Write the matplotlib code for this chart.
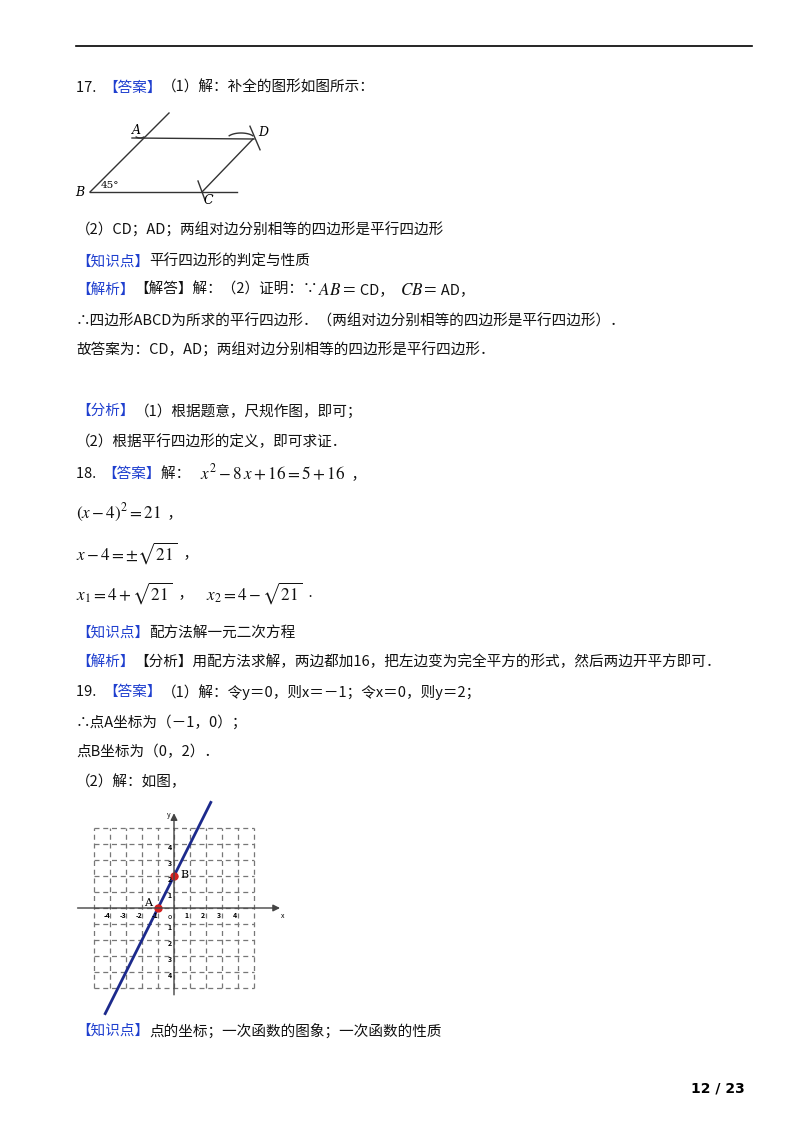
import matplotlib
matplotlib.use('Agg')
import matplotlib.pyplot as plt
import numpy as np

plt.rcParams['font.family'] = ['Noto Sans CJK SC', 'DejaVu Sans']
plt.rcParams['mathtext.fontset'] = 'stix'

BLUE = '#1f3fcf'
BLACK = '#111111'

# 页面文字行：(y, [(文字, 颜色), ...])
lines = [
    (88, [('17.  ', BLACK), ('【答案】', BLUE), ('（1）解：补全的图形如图所示：', BLACK)]),
    (230, [('（2）CD；AD；两组对边分别相等的四边形是平行四边形', BLACK)]),
    (262, [('【知识点】', BLUE), ('平行四边形的判定与性质', BLACK)]),
    (290, [('【解析】', BLUE), ('【解答】解：（2）证明：∵', BLACK), (r'$AB$', BLACK), ('＝ CD，  ', BLACK),
           (r'$CB$', BLACK), ('＝ AD，', BLACK)]),
    (321, [('∴四边形ABCD为所求的平行四边形．（两组对边分别相等的四边形是平行四边形）．', BLACK)]),
    (350, [('故答案为：CD，AD；两组对边分别相等的四边形是平行四边形．', BLACK)]),
    (411, [('【分析】', BLUE), ('（1）根据题意，尺规作图，即可；', BLACK)]),
    (442, [('（2）根据平行四边形的定义，即可求证．', BLACK)]),
    (474, [('18.  ', BLACK), ('【答案】', BLUE), ('解：   ', BLACK), (r'$x^2-8\,x+16=5+16$', BLACK), ('  ，', BLACK)]),
    (513, [(r'$\left(x-4\right)^2=21$', BLACK), ('  ，', BLACK)]),
    (553, [(r'$x-4=\pm\sqrt{21}$', BLACK), ('  ，', BLACK)]),
    (593, [(r'$x_1=4+\sqrt{21}$', BLACK), ('  ，    ', BLACK), (r'$x_2=4-\sqrt{21}$', BLACK), ('  .', BLACK)]),
    (633, [('【知识点】', BLUE), ('配方法解一元二次方程', BLACK)]),
    (662, [('【解析】', BLUE), ('【分析】用配方法求解，两边都加16，把左边变为完全平方的形式，然后两边开平方即可．', BLACK)]),
    (692, [('19.  ', BLACK), ('【答案】', BLUE), ('（1）解：令y＝0，则x＝－1；令x＝0，则y＝2；', BLACK)]),
    (722, [('∴点A坐标为（－1，0）；', BLACK)]),
    (752, [('点B坐标为（0，2）．', BLACK)]),
    (782, [('（2）解：如图，', BLACK)]),
    (1031, [('【知识点】', BLUE), ('点的坐标；一次函数的图象；一次函数的性质', BLACK)]),
]

# 平行四边形顶点（页面像素）
para_pts = {'A': (142, 138), 'B': (90, 192), 'C': (202, 192), 'D': (253, 139)}

# 坐标图：直线 y = 2x + 2，点 A(-1,0)、B(0,2)
line_k, line_b = 2, 2
pt_A = (-1, 0)
pt_B = (0, 2)
grid_range = np.arange(-5, 6)
tick_vals = [-4, -3, -2, -1, 1, 2, 3, 4]

fig = plt.figure(figsize=(8, 11.32), dpi=100)
ax = fig.add_axes([0, 0, 1, 1])
ax.set_xlim(0, 800)
ax.set_ylim(1132, 0)
ax.axis('off')
renderer = fig.canvas.get_renderer()

def draw_line(x, y, segs, size=10.5):
    for s, c in segs:
        fs = size + 1.8 if s.startswith('$') else size
        t = ax.text(x, y, s, color=c, fontsize=fs, va='center', ha='left')
        bb = t.get_window_extent(renderer=renderer)
        x += bb.width

ax.plot([76, 752], [46, 46], color='black', lw=1.2)
for y, segs in lines:
    draw_line(76, y, segs)

# 页码
ax.text(745, 1089, '12 / 23', fontsize=10, fontweight='bold', ha='right', va='center', family='DejaVu Sans')

# 平行四边形
A, B, C, D = (para_pts[k] for k in 'ABCD')
g = '#333333'
ax.plot([B[0], 237], [B[1], B[1]], color=g, lw=1)
ax.plot([B[0], 169], [B[1], 113], color=g, lw=1)
ax.plot([132, 254], [A[1], D[1]], color=g, lw=1)
ax.plot([C[0], D[0]], [C[1], D[1]], color=g, lw=1)
# 圆弧痕迹
th = np.linspace(-0.5, 0.5, 20)
ax.plot(A[0] + 8 * np.sin(th) - 2, A[1] + 8 * np.cos(th) - 8, color=g, lw=1)
ax.plot(D[0] - 12 + 14 * np.sin(th * 2), D[1] - 3 + 6 * (1 - np.cos(th * 2)) - 3, color=g, lw=1)
ax.plot(D[0] + 6 * np.sin(th * 2) + 2, D[1] + 14 * np.sin(th * 2) - 1, color=g, lw=1)
ax.plot([C[0] - 4, C[0] + 3], [C[1] - 11, C[1] + 8], color=g, lw=1)
ax.text(A[0] - 6, A[1] - 8, 'A', fontsize=9, style='italic', family='DejaVu Serif', ha='center', va='center')
ax.text(D[0] + 10, D[1] - 6, 'D', fontsize=9, style='italic', family='DejaVu Serif', ha='center', va='center')
ax.text(C[0] + 6, C[1] + 8, 'C', fontsize=9, style='italic', family='DejaVu Serif', ha='center', va='center')
ax.text(B[0] - 10, B[1] + 1, 'B', fontsize=9, style='italic', family='DejaVu Serif', ha='center', va='center')
ax.text(B[0] + 11, B[1] - 6, '45°', fontsize=7.5, family='DejaVu Serif', ha='left', va='center')

# 坐标图
ox, oy, u = 174, 908, 16
px = lambda x: ox + np.asarray(x) * u
py = lambda y: oy - np.asarray(y) * u
for v in grid_range:
    ax.plot(px([v, v]), py([-5, 5]), color='#777777', lw=0.9, ls=(0, (4, 3)))
    ax.plot(px([-5, 5]), py([v, v]), color='#777777', lw=0.9, ls=(0, (4, 3)))
ax.annotate('', xy=(px(6.8), oy), xytext=(px(-6.2), oy),
            arrowprops=dict(arrowstyle='-|>', color='#444444', lw=1))
ax.annotate('', xy=(ox, py(6.1)), xytext=(ox, py(-5.6)),
            arrowprops=dict(arrowstyle='-|>', color='#444444', lw=1))
ax.text(px(6.8), oy + 8, 'x', fontsize=5, ha='center', va='center')
ax.text(ox - 5, py(5.8), 'y', fontsize=5, ha='center', va='center')
for v in tick_vals:
    ax.text(px(v) - 3, oy + 8, str(v), fontsize=5, fontweight='bold', ha='center', va='center')
    ax.text(ox - 4, py(v) + 4, str(abs(v)), fontsize=5, fontweight='bold', ha='center', va='center')
ax.text(ox - 4, oy + 9, 'o', fontsize=5, ha='center', va='center')
xs = np.array([-4.3, 2.3])
ax.plot(px(xs), py(line_k * xs + line_b), color='#1c2a8c', lw=2)
ax.plot(*[px(pt_A[0]), py(pt_A[1])], 'o', color='#d32020', ms=5)
ax.plot(*[px(pt_B[0]), py(pt_B[1])], 'o', color='#d32020', ms=5)
ax.text(px(pt_A[0]) - 10, py(pt_A[1]) - 5, 'A', fontsize=8, family='DejaVu Serif', ha='center', va='center')
ax.text(px(pt_B[0]) + 10, py(pt_B[1]) - 1, 'B', fontsize=8, family='DejaVu Serif', ha='center', va='center')

fig.savefig('out.png', dpi=100)
